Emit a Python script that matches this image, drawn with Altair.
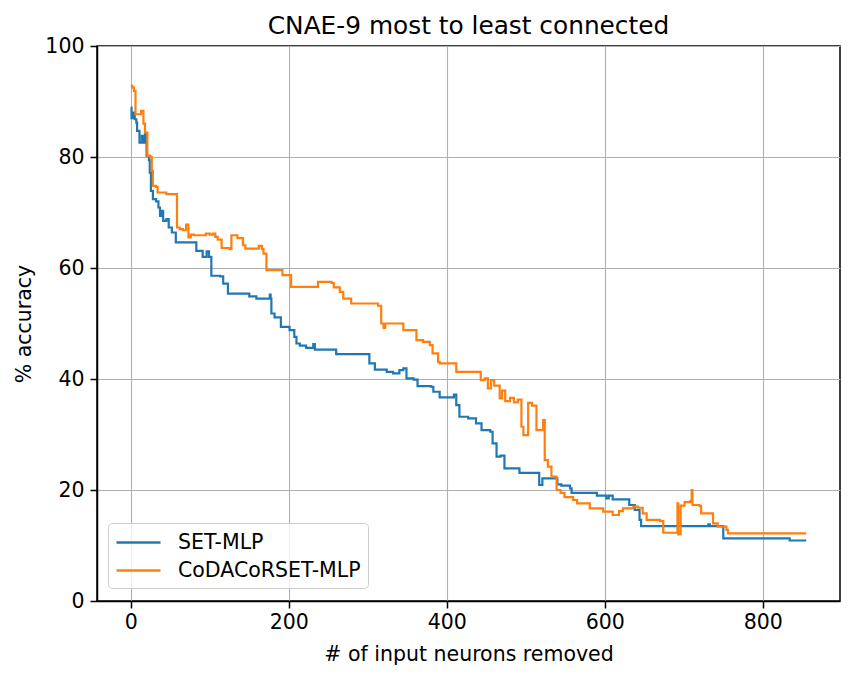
import altair as alt
import pandas as pd

SERIES = ["SET-MLP", "CoDACoRSET-MLP"]
COLORS = ["#1f77b4", "#ff7f0e"]

set_x = [0, 1, 3, 5, 7, 8, 11, 14, 16, 18, 20, 23, 24, 25.5, 28, 32, 35, 37, 39, 41, 45, 48, 52, 57,
         83, 88, 91, 96, 99, 102, 113, 117, 123, 148.5, 150, 157, 159, 176, 177, 178, 182, 190, 201,
         207, 209.7, 214, 222, 231, 233, 260, 298, 302, 309, 324, 332, 340, 345, 349, 358, 363, 380,
         383, 391, 406, 409, 412, 416, 427, 437, 444, 455, 458, 463, 468, 473, 488, 492, 515, 517,
         521, 535, 540, 545, 556, 558, 587, 590, 602, 605, 610, 627, 631, 638, 644, 646, 729, 731,
         733, 750, 832, 834, 855]
set_y = [88.9, 87.0, 88.0, 86.8, 86.2, 84.7, 82.6, 83.8, 82.6, 84.2, 80.2, 79.5, 77.2, 73.9, 72.4,
         72.0, 70.9, 69.4, 70.3, 68.5, 68.8, 67.3, 66.4, 64.6, 63.1, 63.1, 62.0, 63.0, 62.0, 58.6,
         58.5, 57.2, 55.4, 55.4, 54.9, 54.9, 54.5, 55.2, 54.5, 51.8, 51.1, 49.4, 48.8, 47.6, 46.4,
         46.0, 45.6, 46.3, 45.3, 44.5, 44.5, 42.8, 41.7, 41.3, 41.0, 41.6, 41.9, 40.1, 39.9, 38.7,
         38.6, 37.7, 36.7, 36.7, 37.2, 35.3, 33.2, 32.9, 32.0, 30.8, 30.5, 28.4, 26.0, 26.2, 23.9,
         23.9, 23.1, 23.1, 20.9, 22.1, 22.1, 21.0, 20.8, 20.3, 19.5, 19.5, 19.0, 18.5, 19.0, 18.3,
         18.3, 17.3, 16.4, 14.6, 13.5, 13.5, 13.8, 13.5, 11.3, 11.3, 10.9, 10.9]

coda_x = [0, 2, 4, 6, 12, 13, 15, 16, 18, 21, 25, 26.6, 28, 32, 34, 45, 58.5, 62, 66, 70, 73, 76,
          80, 95, 100, 104, 107, 110, 115, 125, 127.4, 135, 142, 145, 160, 162, 166, 168, 171.7,
          185, 192, 203, 237, 254, 257, 264.6, 269, 279, 313, 317, 320, 322, 340, 345, 361.6, 370,
          378.5, 382, 389, 391, 408, 412, 440, 443, 448, 452, 456, 460, 467, 470, 474, 480, 485,
          490, 494.5, 497, 501, 503, 508, 513.5, 520, 522, 524, 528, 532.5, 539, 544, 549, 560,
          565, 581, 598, 610, 618, 623, 636, 642, 648, 653, 670, 674, 690, 692, 693, 695, 696, 701,
          708, 710, 711, 720, 722, 733, 737, 743, 754, 756, 855]
coda_y = [92.8, 92.5, 91.9, 87.7, 87.7, 88.3, 88.3, 86.0, 84.4, 80.2, 80.0, 77.5, 74.8, 74.6, 73.6,
          73.3, 67.3, 67.0, 66.8, 67.8, 65.5, 66.0, 65.9, 66.2, 66.0, 66.2, 65.6, 65.1, 63.6, 63.4,
          65.9, 65.4, 64.1, 63.5, 63.5, 64.0, 63.4, 62.6, 59.6, 59.6, 58.7, 56.6, 57.5, 57.3, 56.5,
          55.7, 54.5, 53.6, 53.2, 50.0, 49.2, 50.0, 50.0, 48.8, 47.0, 46.7, 46.1, 44.6, 43.1, 42.8,
          42.8, 41.3, 41.3, 39.8, 40.1, 38.3, 39.8, 38.8, 36.5, 37.9, 36.0, 36.6, 35.8, 36.3, 31.4,
          29.9, 29.9, 35.7, 35.2, 30.8, 30.8, 32.6, 25.4, 24.2, 22.4, 20.0, 19.5, 18.7, 18.2, 17.6,
          16.7, 16.1, 15.5, 16.2, 16.7, 17.0, 16.8, 15.8, 14.6, 14.4, 12.3, 12.3, 17.6, 12.0, 12.0,
          17.2, 17.8, 18.0, 20.0, 17.3, 17.1, 15.8, 15.8, 14.0, 13.4, 12.8, 12.2, 12.2]

x_ticks = [0, 200, 400, 600, 800]
y_ticks = [0, 20, 40, 60, 80, 100]


def frame(xs, ys, name):
    return pd.DataFrame({"removed": xs, "accuracy": ys, "model": name, "k": range(len(xs))})


df_set = frame(set_x, set_y, SERIES[0])
df_coda = frame(coda_x, coda_y, SERIES[1])

FONT = "DejaVu Sans"

x_enc = alt.X("removed:Q",
              scale=alt.Scale(domain=[-42.75, 897.75], nice=False, zero=False),
              axis=alt.Axis(values=x_ticks, title="# of input neurons removed", format="d"))
y_enc = alt.Y("accuracy:Q",
              scale=alt.Scale(domain=[0, 100], nice=False),
              axis=alt.Axis(values=y_ticks, title="% accuracy", format="d"))
color_enc = alt.Color("model:N",
                      scale=alt.Scale(domain=SERIES, range=COLORS),
                      legend=alt.Legend(title=None, orient="none", legendX=11, legendY=477,
                                        symbolType="M-1,0H3", symbolSize=484,
                                        symbolStrokeWidth=2.5,
                                        labelFontSize=20.5, labelFont=FONT, labelOffset=38,
                                        labelLimit=0, padding=7, rowPadding=5,
                                        strokeColor="#cccccc",
                                        fillColor="rgba(255,255,255,0.8)",
                                        cornerRadius=4))


def line(d):
    return alt.Chart(d).mark_line(interpolate="step-after", strokeWidth=2.2).encode(
        x=x_enc, y=y_enc, color=color_enc, order="k:Q")


chart = alt.layer(line(df_set), line(df_coda)).properties(
    width=743, height=555,
    title=alt.TitleParams("CNAE-9 most to least connected", font=FONT, fontSize=24.8,
                          fontWeight="normal", color="black", offset=-3),
    padding={"left": 97, "top": 46, "right": 25, "bottom": 79},
    autosize=alt.AutoSizeParams(type="none"),
).configure_view(
    stroke="black", strokeWidth=1.5
).configure_axis(
    labelFont=FONT, titleFont=FONT, labelFontSize=20.5, titleFontSize=20.5,
    titleFontWeight="normal", labelColor="black", titleColor="black",
    grid=True, gridColor="#b0b0b0", gridWidth=1.1,
    domainColor="black", domainWidth=1.5, tickColor="black", tickWidth=1.5, tickSize=7,
).configure_axisX(
    labelPadding=4, titlePadding=12
).configure_axisY(
    labelPadding=6, titlePadding=10
)

chart.save("out.html", embed_options={"renderer": "svg", "actions": False})
